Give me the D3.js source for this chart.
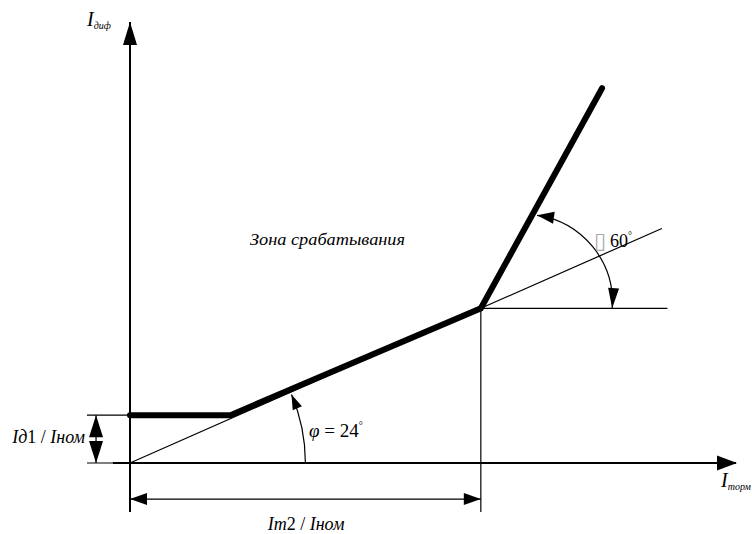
<!DOCTYPE html>
<html><head><meta charset="utf-8">
<script src="https://cdn.jsdelivr.net/npm/d3@7"></script>
<style>body{margin:0;background:#fff} svg{display:block} text{font-family:"Liberation Serif","DejaVu Serif",serif}</style>
</head><body>
<svg id="c" width="752" height="534"></svg>
<script>
// ---- data (units of Iном) ----
const charX = [0, 0.63, 2.2, 2.96];      // characteristic break points, x
const charY = [0.3, 0.3, 0.97, 2.35];    // characteristic break points, y
const id1 = 0.3;                          // Iд1 / Iном
const im2 = 2.2;                          // Im2 / Iном
const phiDeg = 23;                        // drawn arc angle for φ
const refEndX = 3.335;                    // extension of the reference line
const kneeHorizEndX = 3.37;               // horizontal reference at knee
const axisXMin = -0.107, axisXMax = 3.8;
const axisYMin = -0.307, axisYMax = 2.765;
const dimY = -0.226;                      // Im2 dimension line level
const dimX = -0.213;                      // Id1 dimension line position
const extX = -0.27;                       // Id1 extension lines start
const phiR = 1.1;                         // φ arc radius
const arc60 = {cx: 2.476, cy: 1.009, r: 0.549, a0: -4, a1: 82};
const labels = {
  yAxis: ["I", "диф"], xAxis: ["I", "торм"],
  zone: "Зона срабатывания", phi: ["φ", " = 24", "°"], slope: ["60", "°"], box: "\u25AF",
  id1: ["I", "д", "1 / ", "I", "ном"], im2: ["I", "m", "2 / ", "I", "ном"]
};

const svg = d3.select("#c");
const x = d3.scaleLinear([0, axisXMax], [130, 736]);
const y = d3.scaleLinear([0, axisYMax], [463, 22]);
const u = x(1) - x(0);

function line(pts, w) {
  svg.append("path").attr("d", d3.line().x(d => x(d[0])).y(d => y(d[1]))(pts))
    .attr("fill", "none").attr("stroke", "#000").attr("stroke-width", w);
}
function arrow(tx, ty, dx, dy, L, w) { // tip in px, direction in px
  const n = Math.hypot(dx, dy); dx /= n; dy /= n;
  const bx = tx - L * dx, by = ty - L * dy;
  svg.append("path").attr("d",
    `M${tx},${ty}L${bx - w * dy},${by + w * dx}L${bx + w * dy},${by - w * dx}Z`)
    .attr("fill", "#000");
}

// axes
line([[axisXMin, 0], [axisXMax, 0]], 2);
arrow(x(axisXMax) + 1, y(0), 1, 0, 20, 7.5);
line([[0, axisYMin], [0, axisYMax]], 2);
arrow(x(0), y(axisYMax), 0, -1, 23, 7);

// reference lines
const slope = charY[2] / charX[2];
line([[0, 0], [refEndX, slope * refEndX]], 1.2);
line([[charX[2], charY[2]], [kneeHorizEndX, charY[2]]], 1.2);
line([[charX[2], charY[2]], [charX[2], axisYMin]], 1.2);

// Id1 dimension
line([[extX, id1], [0, id1]], 1.2);
line([[extX, 0], [0, 0]], 1.2);
line([[dimX, id1], [dimX, 0]], 1.2);
arrow(x(dimX), y(id1), 0, -1, 22, 7);
arrow(x(dimX), y(0), 0, 1, 22, 7);

// Im2 dimension
line([[0, dimY], [im2, dimY]], 1.2);
arrow(x(0), y(dimY), -1, 0, 17, 6);
arrow(x(im2), y(dimY), 1, 0, 17, 6);

// characteristic
svg.append("path")
  .attr("d", d3.line().x(d => x(d)).y((d, i) => y(charY[i]))(charX))
  .attr("fill", "none").attr("stroke", "#000").attr("stroke-width", 6)
  .attr("stroke-linecap", "round").attr("stroke-linejoin", "miter");

// φ arc
{
  const r = phiR * u, a = phiDeg * Math.PI / 180;
  const p = d3.path(); p.arc(x(0), y(0), r, 0, -a, true);
  svg.append("path").attr("d", p.toString()).attr("fill", "none").attr("stroke", "#000").attr("stroke-width", 1.2);
  arrow(x(0) + r * Math.cos(a), y(0) - r * Math.sin(a), -Math.sin(a), -Math.cos(a), 15, 5);
}
// 60° arc
{
  const cx = x(arc60.cx), cy = y(arc60.cy), r = arc60.r * u;
  const a0 = arc60.a0 * Math.PI / 180, a1 = arc60.a1 * Math.PI / 180;
  const p = d3.path(); p.arc(cx, cy, r, -a0, -a1, true);
  svg.append("path").attr("d", p.toString()).attr("fill", "none").attr("stroke", "#000").attr("stroke-width", 1.2);
  arrow(cx + r * Math.cos(a1), cy - r * Math.sin(a1), -Math.sin(a1), -Math.cos(a1), 17, 6);
  arrow(cx + r * Math.cos(a0), cy - r * Math.sin(a0), Math.sin(a0), Math.cos(a0), 20, 5.5);
}

// texts
function txt(px, py, size, anchor) {
  return svg.append("text").attr("x", px).attr("y", py)
    .attr("font-size", size).attr("text-anchor", anchor || "start").attr("fill", "#000");
}
{
  const t = txt(87, 26, 20); t.append("tspan").attr("font-style", "italic").text(labels.yAxis[0]);
  t.append("tspan").attr("font-style", "italic").attr("font-size", 10).attr("dy", 3).text(labels.yAxis[1]);
}
{
  const t = txt(721, 487, 20); t.append("tspan").attr("font-style", "italic").text(labels.xAxis[0]);
  t.append("tspan").attr("font-style", "italic").attr("font-size", 10).attr("dy", 3).text(labels.xAxis[1]);
}
txt(250, 245, 16).attr("font-style", "italic").attr("textLength", 155).attr("lengthAdjust", "spacingAndGlyphs").text(labels.zone);
{
  const t = txt(309, 437, 19);
  t.append("tspan").attr("font-style", "italic").text(labels.phi[0]);
  t.append("tspan").text(labels.phi[1]);
  t.append("tspan").attr("font-size", 10).attr("dy", -8).text(labels.phi[2]);
}
txt(594, 248, 22).style("font-family", "'DejaVu Sans'").attr("fill", "#aaa").text(labels.box);
{
  const t = txt(610, 247, 18); t.append("tspan").text(labels.slope[0]);
  t.append("tspan").attr("font-size", 10).attr("dy", -8).text(labels.slope[1]);
}
function frac(t, parts) {
  t.append("tspan").attr("font-style", "italic").text(parts[0]);
  t.append("tspan").attr("font-style", "italic").text(parts[1]);
  t.append("tspan").text(parts[2]);
  t.append("tspan").attr("font-style", "italic").text(parts[3]);
  t.append("tspan").attr("font-style", "italic").text(parts[4]);
}
frac(txt(85, 443, 18, "end"), labels.id1);
frac(txt(306, 530, 18, "middle"), labels.im2);
</script>
</body></html>
